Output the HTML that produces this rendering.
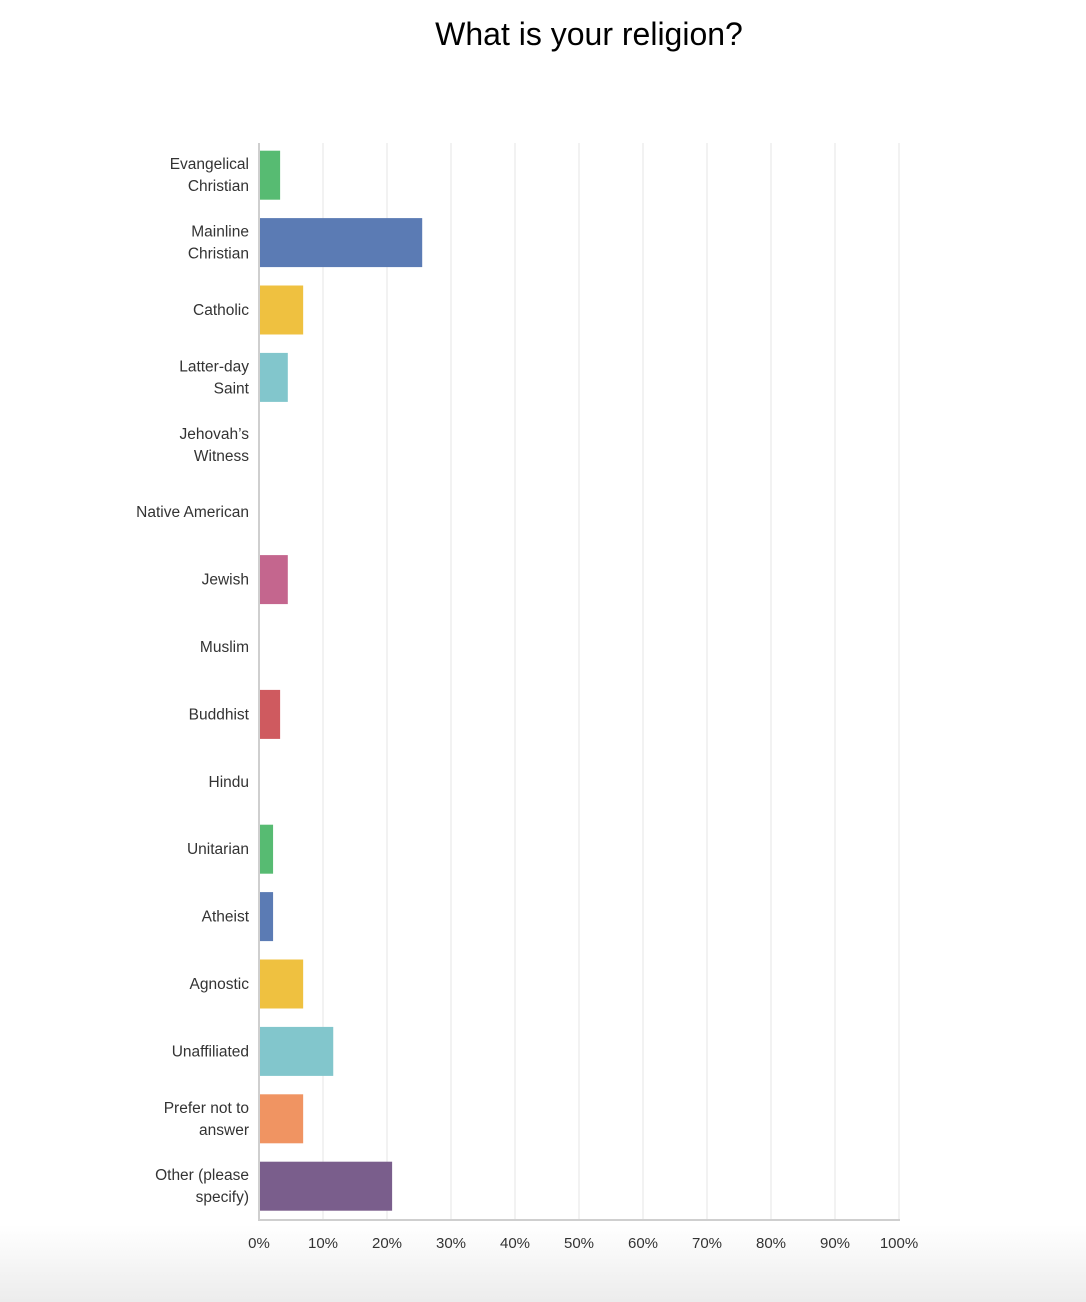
<!DOCTYPE html>
<html><head><meta charset="utf-8"><style>
html,body{margin:0;padding:0;width:1086px;height:1302px;overflow:hidden;background:#fff;font-family:"Liberation Sans",sans-serif}
#bg{position:absolute;left:0;top:1225px;width:1086px;height:77px;background:linear-gradient(#fff,#ececec)}
#title{position:absolute;left:0;width:1178px;top:16px;text-align:center;font-size:32px;color:#000}
svg{position:absolute;left:0;top:0}
</style></head><body>
<div id="bg"></div>
<div id="title">What is your religion?</div>
<svg id="chart" width="1086" height="1302"></svg>
<script>
const categories=[["Evangelical","Christian"],["Mainline","Christian"],["Catholic"],["Latter-day","Saint"],["Jehovah’s","Witness"],["Native American"],["Jewish"],["Muslim"],["Buddhist"],["Hindu"],["Unitarian"],["Atheist"],["Agnostic"],["Unaffiliated"],["Prefer not to","answer"],["Other (please","specify)"]];
const values=[3.3,25.5,6.9,4.5,0,0,4.5,0,3.3,0,2.2,2.2,6.9,11.6,6.9,20.8];
const colors=["#57bb72","#5b7bb4","#efc140","#82c6cc","#57bb72","#5b7bb4","#c4668e","#efc140","#cf5a5f","#82c6cc","#57bb72","#5b7bb4","#efc140","#82c6cc","#f09462","#7a5e8c"];
const ticks=[0,10,20,30,40,50,60,70,80,90,100];
const NS="http://www.w3.org/2000/svg";
const svg=document.getElementById('chart');
const x0=259,x1=899,yTop=143,yBot=1220,rowStart=141.5,rowH=67.4,barH=49;
const xs=v=>x0+(x1-x0)*v/100;
const yc=i=>rowStart+rowH*i+rowH/2;
function mk(t,a){const e=document.createElementNS(NS,t);for(const k in a)e.setAttribute(k,a[k]);svg.appendChild(e);return e;}
ticks.forEach((t,i)=>{
  if(t>0){const g=mk('line',{x1:xs(t),x2:xs(t),y1:yTop,y2:yBot,stroke:'#e6e6e6','stroke-width':1});
  
  }
  const l=mk('text',{x:xs(t),y:1248,'text-anchor':'middle','font-size':15,fill:'#333'});
  l.textContent=t+'%';
  
  
});
values.forEach((v,i)=>{
  if(v>0){const r=mk('rect',{x:x0+1,y:yc(i)-barH/2,width:xs(v)-x0-1,height:barH,fill:colors[i]});
  
  }
  const lines=categories[i];
  const t=mk('text',{x:249,'text-anchor':'end','font-size':15.5,fill:'#333'});
  
  
  lines.forEach((s,j)=>{const ts=document.createElementNS(NS,'tspan');ts.setAttribute('x',249);
    ts.setAttribute('y',yc(i)+5+(j-(lines.length-1)/2)*22);ts.textContent=s;t.appendChild(ts);});
});
const ax=mk('line',{x1:x0,x2:x0,y1:yTop,y2:yBot,stroke:'#cfcfcf','stroke-width':2});


const bx=mk('line',{x1:x0-1,x2:x1+1,y1:yBot,y2:yBot,stroke:'#cfcfcf','stroke-width':2});


</script>
</body></html>
